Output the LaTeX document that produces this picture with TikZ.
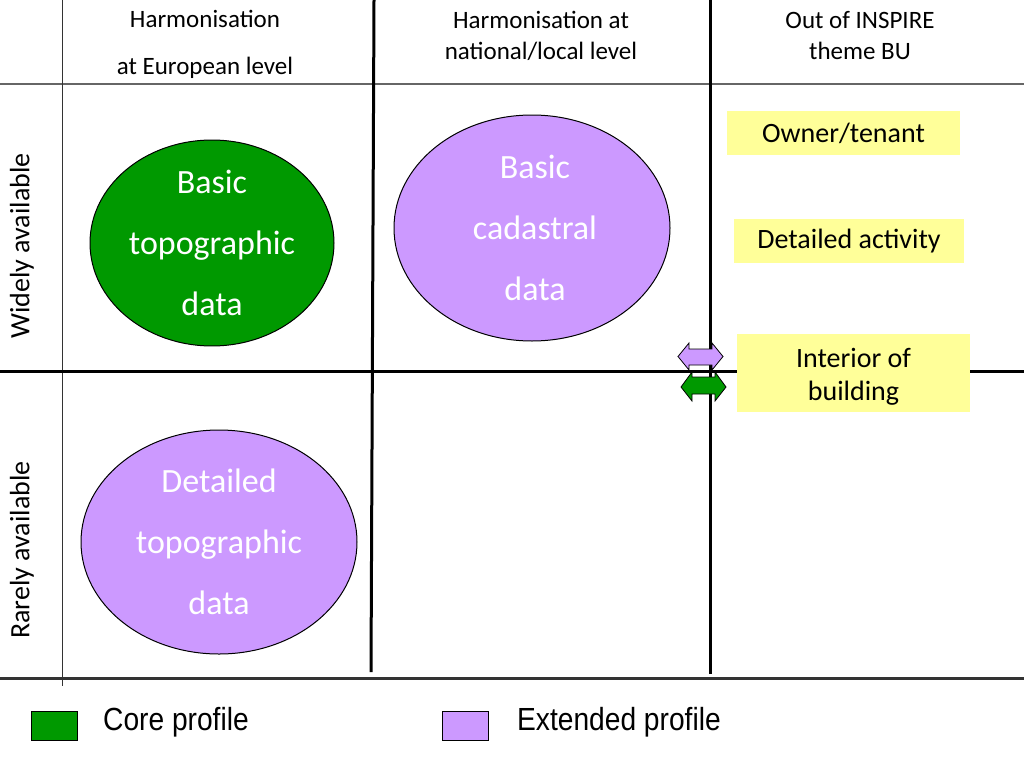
\documentclass[tikz,border=0pt]{standalone}
\usepackage{fontspec}
\usepackage{graphicx}
\setmainfont{Carlito}
\newfontfamily\legendfont{Liberation Sans}
\usetikzlibrary{shapes.geometric}
\definecolor{coregreen}{HTML}{009900}
\definecolor{extpurple}{HTML}{CC99FF}
\definecolor{noteyellow}{HTML}{FFFF99}
\tikzset{
  thinline/.style={line width=1.3pt, draw=black!60},
  thickline/.style={line width=3pt, draw=black},
  blob/.style={ellipse, draw=black, line width=1pt, text=white, align=center, inner sep=0pt,
    font=\fontsize{34}{61}\selectfont},
  header/.style={align=center, font=\fontsize{25}{31}\selectfont},
  rowlabel/.style={rotate=90, font=\fontsize{28}{34}\selectfont},
  note/.style={fill=noteyellow, align=center, inner sep=0pt, font=\fontsize{28}{33}\selectfont},
  legbox/.style={draw=black, line width=1pt},
  legtext/.style={anchor=base west, inner sep=0pt, font=\legendfont\fontsize{32}{36}\selectfont},
  arrowshape/.style={draw=black, line width=0.8pt, line join=miter}
}
\begin{document}
\begin{tikzpicture}[x=1pt,y=-1pt]
\useasboundingbox (0,0) rectangle (1024,768);
\fill[white] (0,0) rectangle (1024,768);

% grid
\coordinate (hT) at (0,84); \coordinate (hTe) at (1024,84);
\draw[thinline] (hT) -- (hTe);
\coordinate (vL) at (62,0); \coordinate (vLe) at (62,686);
\draw[line width=1pt, draw=black!80] (vL) -- (vLe);
\coordinate (v1) at (374,0); \coordinate (v1e) at (371,672);
\draw[thickline] (v1) -- (v1e);
\coordinate (v2) at (710,0); \coordinate (v2e) at (710,674);
\draw[thickline] (v2) -- (v2e);
\coordinate (hM) at (0,371); \coordinate (hMe) at (1024,371);
\draw[thickline] (hM) -- (hMe);
\coordinate (hB) at (0,678); \coordinate (hBe) at (1024,678);
\draw[thickline, draw=black!80] (hB) -- (hBe);

% headers
\node[header, font=\fontsize{25}{47}\selectfont] (h1) at (205,44) {Harmonisation\\at European level};
\node[header] (h2) at (541,36) {Harmonisation at\\national/local level};
\node[header] (h3) at (860,36) {Out of INSPIRE\\theme BU};

% row labels
\node[rowlabel] (r1) at (22,246) {Widely available};
\node[rowlabel] (r2) at (22,550) {Rarely available};

% ellipses
\node[blob, fill=coregreen, minimum width=244pt, minimum height=200pt] (e1) at (212,243) {Basic\\topographic\\data};
\node[blob, fill=extpurple, minimum width=276pt, minimum height=226pt] (e2) at (532,228) {\hspace*{6pt}Basic\\\hspace*{6pt}cadastral\\\hspace*{6pt}data};
\node[blob, fill=extpurple, minimum width=276pt, minimum height=224pt] (e3) at (219,542) {Detailed\\topographic\\data};

% yellow notes
\node[note, minimum width=233pt, minimum height=44pt] (n1) at (843.5,133) {\raisebox{-2pt}{Owner/tenant}};
\node[note, minimum width=230pt, minimum height=44pt] (n2) at (849,241) {\raisebox{-2pt}{Detailed activity}};
\node[note, minimum width=233pt, minimum height=78pt, text depth=0pt] (n3) at (853.5,373) {\raisebox{-2pt}{Interior of}\\\raisebox{-2pt}{building}};

% double arrows
\draw[arrowshape, fill=extpurple] (678,356.5) -- (689,343) -- (689,349) -- (712,349) -- (712,343)
  -- (723,356.5) -- (712,370) -- (712,365) -- (689,365) -- (689,370) -- cycle;
\draw[arrowshape, fill=coregreen] (681,387) -- (692,372) -- (692,377) -- (715,377) -- (715,372)
  -- (726,387) -- (715,401) -- (715,394) -- (692,394) -- (692,401) -- cycle;

% legend
\node[legbox, fill=coregreen, minimum width=46pt, minimum height=29pt, inner sep=0pt] (l1) at (54,725.5) {};
\node[legtext] (t1) at (103,730) {\scalebox{0.88}[1]{Core profile}};
\node[legbox, fill=extpurple, minimum width=46pt, minimum height=29pt, inner sep=0pt] (l2) at (465,725.5) {};
\node[legtext] (t2) at (517,730) {\scalebox{0.88}[1]{Extended profile}};
\end{tikzpicture}
\end{document}
